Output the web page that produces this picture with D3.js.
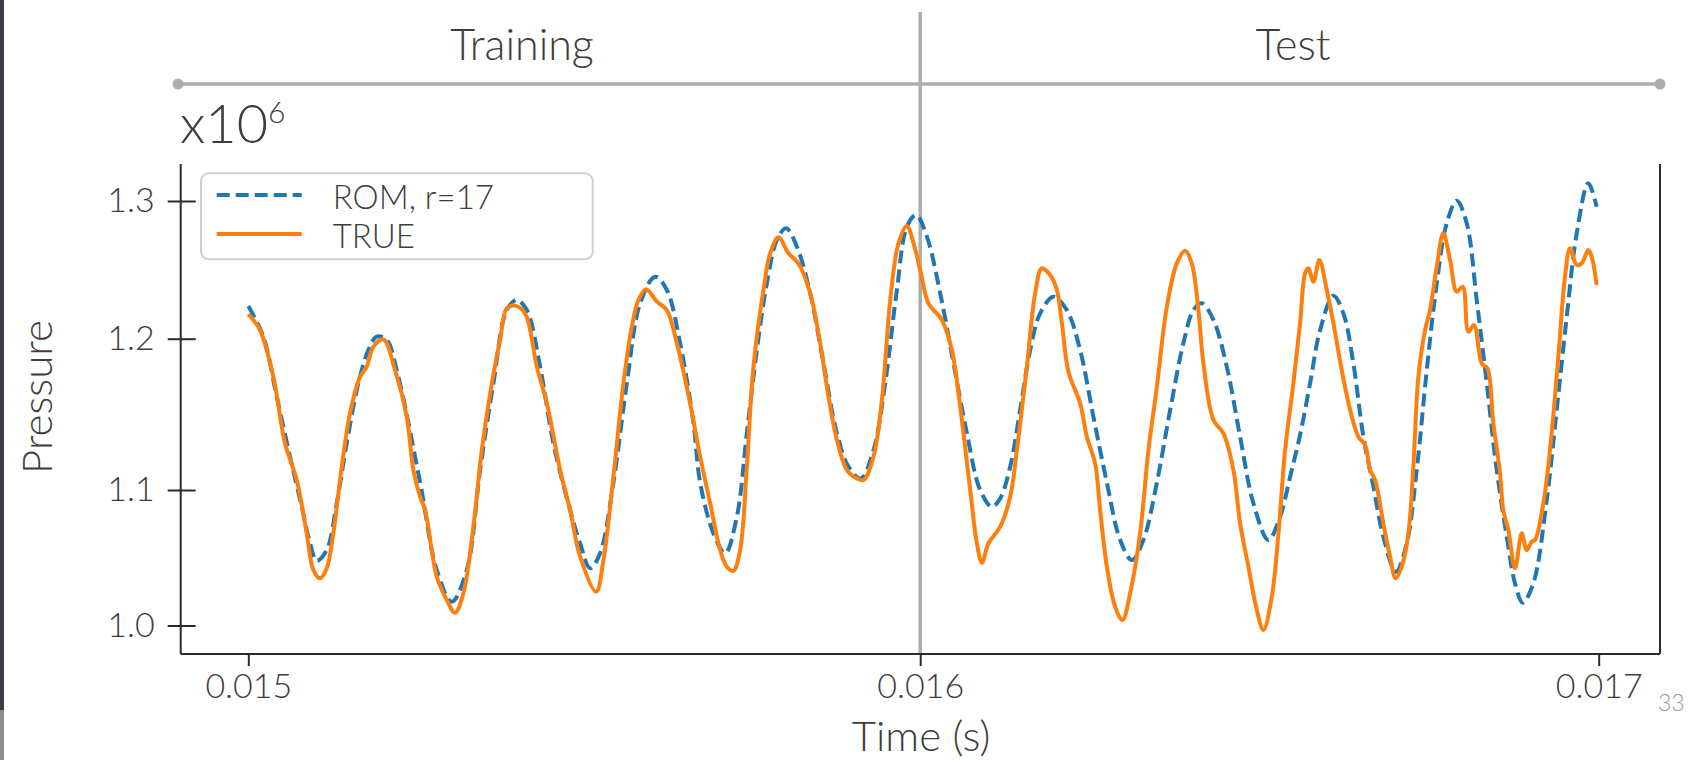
<!DOCTYPE html>
<html>
<head>
<meta charset="utf-8">
<script src="https://cdn.jsdelivr.net/npm/d3@7"></script>
<style>
  body { margin: 0; background: #fff; }
  svg { display: block; font-family: Lato, "Open Sans", sans-serif; font-weight: 300; }
</style>
</head>
<body>
<svg id="chart" width="1699" height="760"></svg>
<script>
// time in ms, pressure in units of 1e6
const tickTimes = [15, 16, 17];
const tickPressures = [1.0, 1.1, 1.2, 1.3];
const splitTime = 16;
const phaseLabels = ["Training", "Test"];
const seriesNames = ["ROM, r=17", "TRUE"];

const romTime = [
  15.0000, 15.0223, 15.0423, 15.0621, 15.0795, 15.0919, 15.1018, 15.1167, 15.1316, 15.1465,
  15.1638, 15.1787, 15.1912, 15.2060, 15.2209, 15.2556, 15.2805, 15.3028, 15.3252, 15.3450,
  15.3648, 15.3847, 15.3996, 15.4145, 15.4343, 15.4541, 15.4789, 15.4938, 15.5087, 15.5236,
  15.5434, 15.5634, 15.5832, 15.6055, 15.6229, 15.6427, 15.6625, 15.6725, 15.6923, 15.7097,
  15.7271, 15.7420, 15.7569, 15.7718, 15.7867, 15.8005, 15.8165, 15.8363, 15.8561, 15.8760,
  15.8933, 15.9117, 15.9305, 15.9479, 15.9653, 15.9802, 15.9941, 16.0099, 16.0295, 16.0491,
  16.0688, 16.0884, 16.1056, 16.1179, 16.1326, 16.1473, 16.1621, 16.1768, 16.1964, 16.2161,
  16.2357, 16.2553, 16.2751, 16.2947, 16.3119, 16.3290, 16.3488, 16.3684, 16.3879, 16.4027,
  16.4151, 16.4322, 16.4519, 16.4715, 16.4911, 16.5132, 16.5304, 16.5452, 16.5599, 16.5746,
  16.5894, 16.6090, 16.6237, 16.6384, 16.6532, 16.6679, 16.6826, 16.7013, 16.7171, 16.7318,
  16.7466, 16.7613, 16.7760, 16.7908, 16.8055, 16.8202, 16.8350, 16.8497, 16.8645, 16.8767,
  16.8880, 16.9036, 16.9234, 16.9381, 16.9529, 16.9676, 16.9847, 16.9970
];
const romPressure = [
  1.2237, 1.2015, 1.1617, 1.1220, 1.0877, 1.0607, 1.0478, 1.0557, 1.0902, 1.1309,
  1.1705, 1.1925, 1.2015, 1.1991, 1.1793, 1.1052, 1.0410, 1.0176, 1.0410, 1.1132,
  1.1705, 1.2208, 1.2281, 1.2208, 1.1815, 1.1309, 1.0852, 1.0607, 1.0422, 1.0533,
  1.1049, 1.1705, 1.2257, 1.2450, 1.2354, 1.1970, 1.1441, 1.1049, 1.0680, 1.0533,
  1.0803, 1.1375, 1.1925, 1.2402, 1.2717, 1.2802, 1.2668, 1.2330, 1.1837, 1.1375,
  1.1154, 1.1077, 1.1264, 1.1705, 1.2354, 1.2813, 1.2898, 1.2741, 1.2330, 1.1837,
  1.1375, 1.1000, 1.0877, 1.0938, 1.1154, 1.1529, 1.1925, 1.2184, 1.2305, 1.2208,
  1.1925, 1.1484, 1.1049, 1.0631, 1.0483, 1.0631, 1.1049, 1.1529, 1.1970, 1.2208,
  1.2257, 1.2136, 1.1815, 1.1352, 1.0902, 1.0631, 1.0803, 1.1088, 1.1364, 1.1705,
  1.2063, 1.2312, 1.2184, 1.1837, 1.1352, 1.1024, 1.0655, 1.0397, 1.0607, 1.1132,
  1.1793, 1.2402, 1.2838, 1.3002, 1.2838, 1.2281, 1.1705, 1.1132, 1.0655, 1.0311,
  1.0168, 1.0311, 1.0926, 1.1529, 1.2160, 1.2765, 1.3129, 1.2958
];

const trueTime = [
  15.0000, 15.0174, 15.0372, 15.0546, 15.0721, 15.0869, 15.0968, 15.1067, 15.1167, 15.1265,
  15.1391, 15.1514, 15.1663, 15.1763, 15.1861, 15.2010, 15.2184, 15.2358, 15.2457, 15.2556,
  15.2631, 15.2805, 15.2954, 15.3077, 15.3201, 15.3350, 15.3475, 15.3624, 15.3747, 15.3847,
  15.3971, 15.4119, 15.4294, 15.4443, 15.4641, 15.4789, 15.4938, 15.5177, 15.5285, 15.5434,
  15.5583, 15.5708, 15.5806, 15.5921, 15.6080, 15.6229, 15.6378, 15.6576, 15.6725, 15.6874,
  15.7023, 15.7122, 15.7221, 15.7320, 15.7420, 15.7518, 15.7667, 15.7767, 15.7891, 15.8040,
  15.8188, 15.8363, 15.8511, 15.8635, 15.8760, 15.8909, 15.9058, 15.9156, 15.9305, 15.9430,
  15.9554, 15.9677, 15.9802, 15.9901, 16.0000, 16.0122, 16.0320, 16.0467, 16.0589, 16.0737,
  16.0835, 16.0909, 16.1006, 16.1179, 16.1326, 16.1425, 16.1572, 16.1694, 16.1793, 16.1915,
  16.2014, 16.2088, 16.2185, 16.2357, 16.2456, 16.2578, 16.2652, 16.2751, 16.2873, 16.2981,
  16.3094, 16.3241, 16.3364, 16.3488, 16.3635, 16.3782, 16.3905, 16.4003, 16.4100, 16.4174,
  16.4322, 16.4469, 16.4616, 16.4715, 16.4837, 16.4961, 16.5058, 16.5182, 16.5280, 16.5378,
  16.5500, 16.5599, 16.5673, 16.5722, 16.5795, 16.5883, 16.5992, 16.6090, 16.6213, 16.6336,
  16.6458, 16.6557, 16.6630, 16.6704, 16.6826, 16.6925, 16.7009, 16.7097, 16.7195, 16.7268,
  16.7342, 16.7441, 16.7514, 16.7613, 16.7710, 16.7809, 16.7908, 16.7996, 16.8079, 16.8163,
  16.8276, 16.8359, 16.8447, 16.8546, 16.8594, 16.8668, 16.8767, 16.8866, 16.8939, 16.9013,
  16.9062, 16.9184, 16.9282, 16.9405, 16.9503, 16.9577, 16.9676, 16.9750, 16.9847, 16.9897,
  16.9970
];
const truePressure = [
  1.2179, 1.2063, 1.1749, 1.1309, 1.1066, 1.0680, 1.0410, 1.0348, 1.0422, 1.0680,
  1.1154, 1.1507, 1.1749, 1.1815, 1.1947, 1.1996, 1.1793, 1.1484, 1.1132, 1.0951,
  1.0852, 1.0360, 1.0188, 1.0094, 1.0238, 1.0729, 1.1264, 1.1705, 1.1992, 1.2221,
  1.2240, 1.2184, 1.1815, 1.1573, 1.1132, 1.0852, 1.0508, 1.0249, 1.0483, 1.1088,
  1.1705, 1.2087, 1.2281, 1.2359, 1.2269, 1.2208, 1.1970, 1.1573, 1.1220, 1.0902,
  1.0557, 1.0434, 1.0404, 1.0557, 1.1154, 1.1815, 1.2354, 1.2620, 1.2736, 1.2620,
  1.2547, 1.2330, 1.1970, 1.1617, 1.1331, 1.1132, 1.1077, 1.1066, 1.1220, 1.1595,
  1.2281, 1.2693, 1.2818, 1.2693, 1.2499, 1.2257, 1.2136, 1.1925, 1.1551, 1.1000,
  1.0607, 1.0463, 1.0607, 1.0729, 1.0951, 1.1264, 1.1815, 1.2330, 1.2511, 1.2462,
  1.2354, 1.2112, 1.1782, 1.1573, 1.1352, 1.1176, 1.0852, 1.0434, 1.0139, 1.0041,
  1.0238, 1.0680, 1.1264, 1.1683, 1.2232, 1.2547, 1.2639, 1.2547, 1.2208, 1.1837,
  1.1463, 1.1375, 1.1132, 1.0754, 1.0434, 1.0114, 0.9967, 1.0213, 1.0680, 1.1264,
  1.1705, 1.2114, 1.2475, 1.2511, 1.2414, 1.2571, 1.2354, 1.2112, 1.1793, 1.1529,
  1.1352, 1.1297, 1.1132, 1.1066, 1.0754, 1.0508, 1.0348, 1.0434, 1.0680, 1.1154,
  1.1749, 1.2063, 1.2208, 1.2523, 1.2765, 1.2571, 1.2341, 1.2378, 1.2051, 1.2099,
  1.1837, 1.1804, 1.1441, 1.1110, 1.0852, 1.0705, 1.0422, 1.0680, 1.0557, 1.0618,
  1.0631, 1.0902, 1.1264, 1.1881, 1.2450, 1.2656, 1.2535, 1.2547, 1.2644, 1.2595,
  1.2390
];

const svg = d3.select("#chart");
const textColor = "#3d3d3d";
const gray = "#adadad";
const frame = { left: 180.7, right: 1660, top: 164, bottom: 654 };

// the source picture is slightly warped, so the scales are piecewise
const x = d3.scaleLinear().domain(tickTimes).range([248.3, 920.2, 1598.7]);
const y = d3.scaleLinear().domain(tickPressures).range([625.5, 490, 338.7, 201]);

// slide edge on the left
svg.append("rect").attr("x", 0).attr("y", 0).attr("width", 4).attr("height", 710).attr("fill", "#3a3f45");
svg.append("rect").attr("x", 0).attr("y", 710).attr("width", 4).attr("height", 50).attr("fill", "#8c8c8c");

// training / test banner
svg.append("line")
    .attr("x1", 178).attr("x2", frame.right)
    .attr("y1", 84).attr("y2", 84)
    .style("stroke", gray).style("stroke-width", 3.5);
svg.selectAll("circle.end")
    .data([178, frame.right])
    .enter().append("circle")
    .attr("class", "end")
    .attr("cx", d => d).attr("cy", 84).attr("r", 5.5)
    .style("fill", gray);
svg.append("line")
    .attr("x1", x(splitTime)).attr("x2", x(splitTime))
    .attr("y1", 12).attr("y2", frame.bottom)
    .style("stroke", gray).style("stroke-width", 3.5);
svg.selectAll("text.phase")
    .data(phaseLabels)
    .enter().append("text")
    .attr("class", "phase")
    .attr("x", (d, i) => [522, 1293][i])
    .attr("y", 60)
    .attr("text-anchor", "middle")
    .style("font-size", "43px")
    .style("fill", textColor)
    .text(d => d);

// axes
const xAxis = svg.append("g")
    .attr("transform", `translate(0,${frame.bottom})`)
    .call(d3.axisBottom(x).tickValues(tickTimes).tickSize(12).tickPadding(7.6)
        .tickFormat(d => d3.format(".3f")(d / 1000)));
const yAxis = svg.append("g")
    .attr("transform", `translate(${frame.left},0)`)
    .call(d3.axisLeft(y).tickValues(tickPressures).tickSize(13).tickPadding(13)
        .tickFormat(d3.format(".1f")));
[xAxis, yAxis].forEach(g => {
    g.select(".domain").remove();
    g.selectAll(".tick line").style("stroke", "#2b2b2b").style("stroke-width", 2);
    g.selectAll(".tick text")
        .style("font-family", "Lato, sans-serif")
        .style("font-weight", 300)
        .style("font-size", "34px")
        .style("fill", textColor);
});
// y ticks cross the spine
yAxis.selectAll(".tick line").attr("x1", 15).attr("x2", -13);

const spines = [
    [frame.left, frame.top, frame.left, frame.bottom],
    [frame.left, frame.bottom, frame.right, frame.bottom],
    [frame.right, frame.top, frame.right, frame.bottom]
];
svg.selectAll("line.spine")
    .data(spines)
    .enter().append("line")
    .attr("class", "spine")
    .attr("x1", d => d[0]).attr("y1", d => d[1])
    .attr("x2", d => d[2]).attr("y2", d => d[3])
    .style("stroke", "#2b2b2b").style("stroke-width", 2);

// series
const line = d3.line()
    .x(d => x(d[0]))
    .y(d => y(d[1]))
    .curve(d3.curveCatmullRom.alpha(0.5));

svg.append("path")
    .datum(d3.zip(romTime, romPressure))
    .attr("d", line)
    .style("fill", "none")
    .style("stroke", "#1f77b4")
    .style("stroke-width", 4)
    .style("stroke-dasharray", "13,6");

svg.append("path")
    .datum(d3.zip(trueTime, truePressure))
    .attr("d", line)
    .style("fill", "none")
    .style("stroke", "#ff7f0e")
    .style("stroke-width", 4)
    .style("stroke-linejoin", "round");

// legend
const legend = svg.append("g").attr("class", "legend");
legend.append("rect")
    .attr("x", 201).attr("y", 173.3)
    .attr("width", 391.7).attr("height", 86)
    .attr("rx", 8)
    .style("fill", "#fff").style("fill-opacity", 0.85)
    .style("stroke", "#d0d0d0").style("stroke-width", 2);
const legendRows = legend.selectAll("g.row")
    .data(seriesNames)
    .enter().append("g")
    .attr("class", "row")
    .attr("transform", (d, i) => `translate(0,${195 + i * 39})`);
legendRows.append("line")
    .attr("x1", 216.7).attr("x2", 301.7)
    .style("stroke", (d, i) => i === 0 ? "#1f77b4" : "#ff7f0e")
    .style("stroke-width", 4)
    .style("stroke-dasharray", (d, i) => i === 0 ? "13,6" : null);
legendRows.append("text")
    .attr("x", 332.7).attr("y", 14)
    .style("font-size", "33px")
    .style("fill", textColor)
    .text(d => d);

// labels
svg.append("text")
    .attr("x", 180).attr("y", 143)
    .style("font-size", "54px")
    .style("fill", textColor)
    .text("x10")
    .append("tspan")
    .attr("dy", -20)
    .style("font-size", "30px")
    .text("6");

svg.append("text")
    .attr("transform", "translate(52,397) rotate(-90)")
    .attr("text-anchor", "middle")
    .style("font-size", "42px")
    .style("fill", textColor)
    .text("Pressure");

svg.append("text")
    .attr("x", 921).attr("y", 751)
    .attr("text-anchor", "middle")
    .style("font-size", "42px")
    .style("fill", textColor)
    .text("Time (s)");

svg.append("text")
    .attr("x", 1658).attr("y", 711)
    .style("font-size", "23px")
    .style("fill", "#9a9a9a")
    .text("33");
</script>
</body>
</html>
